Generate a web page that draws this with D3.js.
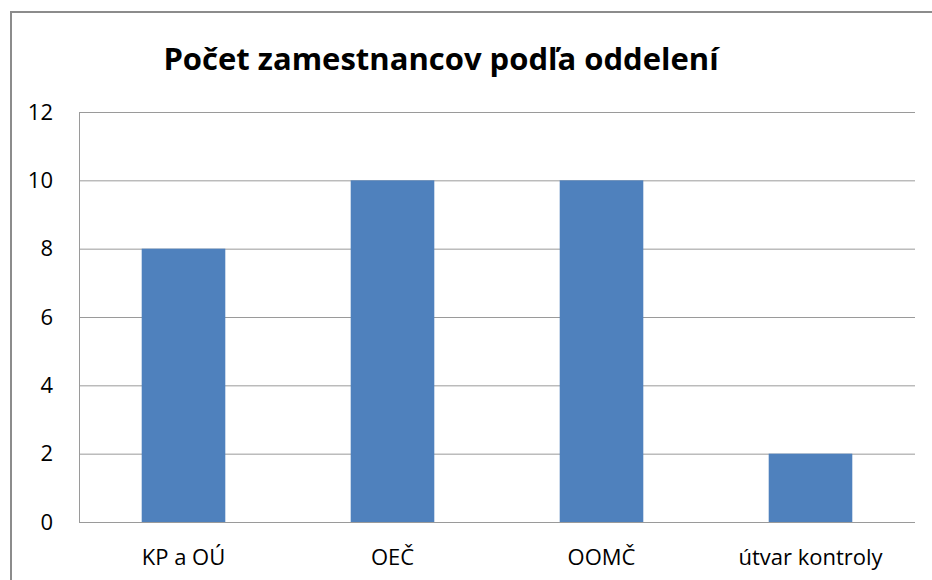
<!DOCTYPE html>
<html lang="sk">
<head>
  <meta charset="UTF-8">
  <title>Počet zamestnancov podľa oddelení</title>
  <script src="https://d3js.org/d3.v7.min.js"></script>
  <style>
    body { margin: 0; background: #fff; }
    svg { display: block; font-family: "Open Sans", "Noto Sans", sans-serif; }
  </style>
</head>
<body>
<svg width="932" height="580"></svg>
<script>
  // dáta
  const categories = ["KP a OÚ", "OEČ", "OOMČ", "útvar kontroly"];
  const values = [8, 10, 10, 2];
  const yTicks = [0, 2, 4, 6, 8, 10, 12];
  const title = "Počet zamestnancov podľa oddelení";

  const margin = {top: 112, right: 17, bottom: 58, left: 79},
        width = 932 - margin.left - margin.right,
        height = 580 - margin.top - margin.bottom;

  const root = d3.select("svg");

  // vonkajší rámik grafu
  root.append("rect")
      .attr("x", 11)
      .attr("y", 12)
      .attr("width", 940)
      .attr("height", 600)
      .attr("fill", "none")
      .attr("stroke", "#8c8c8c")
      .attr("stroke-width", 2);

  root.append("text")
      .attr("x", 441)
      .attr("y", 70)
      .attr("text-anchor", "middle")
      .style("font-size", "31px")
      .style("font-weight", "bold")
      .attr("fill", "#000")
      .text(title);

  const svg = root.append("g")
      .attr("transform", `translate(${margin.left},${margin.top})`);

  const x = d3.scaleBand()
      .domain(categories)
      .range([0, width])
      .paddingInner(0.6)
      .paddingOuter(0.3);

  const y = d3.scaleLinear()
      .domain([0, 12])
      .range([height, 0]);

  // mriežka
  svg.append("g")
      .selectAll("line")
      .data(yTicks)
      .join("line")
      .attr("x1", 0)
      .attr("x2", width)
      .attr("y1", d => y(d) + 0.5)
      .attr("y2", d => y(d) + 0.5)
      .attr("stroke", "#9a9a9a")
      .attr("stroke-width", 1);

  // stĺpce
  svg.selectAll(".bar")
      .data(values)
      .join("rect")
      .attr("class", "bar")
      .attr("x", (d, i) => x(categories[i]))
      .attr("width", x.bandwidth())
      .attr("y", d => y(d))
      .attr("height", d => height - y(d))
      .attr("fill", "#4f81bd");

  // ľavá os
  svg.append("line")
      .attr("x1", 0.5).attr("x2", 0.5)
      .attr("y1", 0).attr("y2", height)
      .attr("stroke", "#9a9a9a");

  const yAxis = svg.append("g")
      .call(d3.axisLeft(y).tickValues(yTicks).tickSize(0).tickPadding(26));
  yAxis.select(".domain").remove();
  yAxis.selectAll("text")
      .style("font-size", "22px")
      .style("font-family", "\"Open Sans\", sans-serif")
      .attr("fill", "#000");

  const xAxis = svg.append("g")
      .attr("transform", `translate(0,${height})`)
      .call(d3.axisBottom(x).tickSize(0).tickPadding(27));
  xAxis.select(".domain").remove();
  xAxis.selectAll("text")
      .style("font-size", "22px")
      .style("font-family", "\"Open Sans\", sans-serif")
      .attr("fill", "#000");
</script>
</body>
</html>
